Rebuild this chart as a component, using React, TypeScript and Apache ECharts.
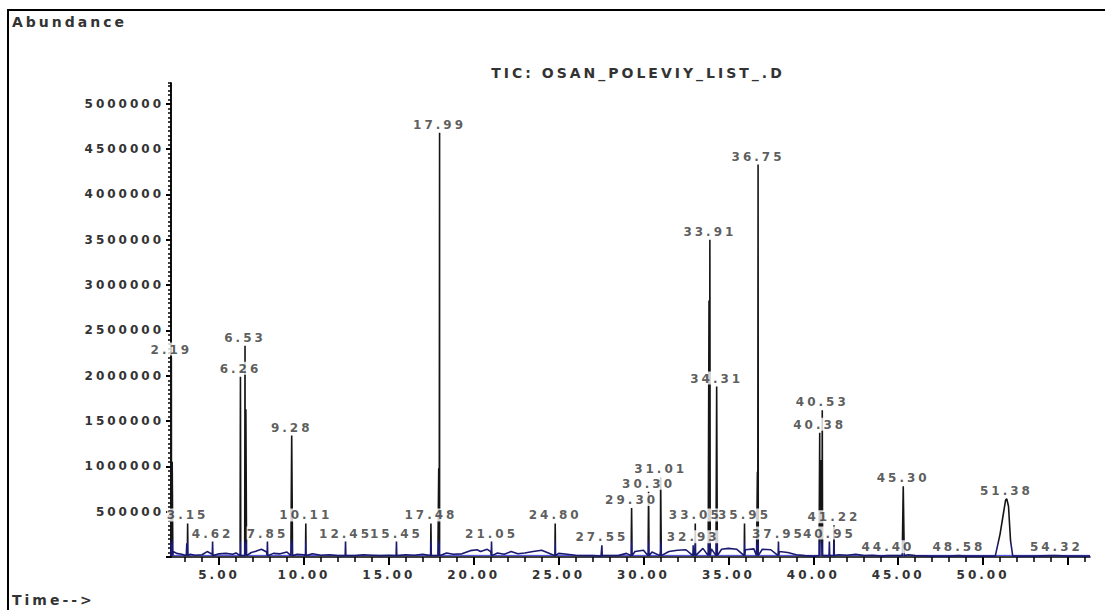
import React, { useEffect, useRef } from "react";
import * as echarts from "echarts";

// ---- axis ticks ----
const xLabelValues = [5, 10, 15, 20, 25, 30, 35, 40, 45, 50];
const xMajorTicks = [5, 10, 15, 20, 25, 30, 35, 40, 45, 50, 55];
const xMinorTicks = [3, 4, 6, 7, 8, 9, 11, 12, 13, 14, 16, 17, 18, 19, 21, 22, 23, 24, 26, 27, 28, 29, 31, 32, 33, 34, 36, 37, 38, 39, 41, 42, 43, 44, 46, 47, 48, 49, 51, 52, 53, 54, 56];
const yLabelValues = [500000, 1000000, 1500000, 2000000, 2500000, 3000000, 3500000, 4000000, 4500000, 5000000];
const yMajorTicks = [0, 500000, 1000000, 1500000, 2000000, 2500000, 3000000, 3500000, 4000000, 4500000, 5000000];
const yMinorInterval = 50000;
const yMax = 5230000;

// ---- peaks (retention time, abundance, half width, label) ----
const peakTimes = [2.19, 2.24, 3.1, 3.15, 4.62, 6.26, 6.53, 6.58, 7.85, 9.28, 10.11, 12.45, 15.45, 17.48, 17.94, 17.99, 21.05, 24.8, 27.55, 29.3, 30.3, 31.01, 32.93, 33.05, 33.86, 33.91, 34.31, 35.95, 36.71, 36.75, 37.95, 40.38, 40.45, 40.53, 40.95, 41.22, 44.4, 45.3, 48.58, 54.32];
const peakHeights = [2200000, 1050000, 150000, 370000, 170000, 1990000, 2330000, 1630000, 170000, 1340000, 370000, 170000, 170000, 370000, 980000, 4680000, 170000, 370000, 130000, 540000, 720000, 880000, 130000, 370000, 2830000, 3500000, 1880000, 370000, 940000, 4330000, 170000, 1370000, 1070000, 1620000, 170000, 350000, 20000, 780000, 20000, 20000];
const peakHalfWidths = [0.02, 0.04, 0.03, 0.02, 0.02, 0.02, 0.02, 0.04, 0.02, 0.05, 0.02, 0.02, 0.02, 0.02, 0.05, 0.02, 0.02, 0.02, 0.02, 0.03, 0.03, 0.04, 0.02, 0.02, 0.05, 0.02, 0.04, 0.02, 0.05, 0.02, 0.02, 0.04, 0.06, 0.02, 0.02, 0.02, 0.02, 0.06, 0.02, 0.02];
const peakLabels = ["2.19", "", "", "3.15", "4.62", "6.26", "6.53", "", "7.85", "9.28", "10.11", "12.45", "15.45", "17.48", "", "17.99", "21.05", "24.80", "27.55", "29.30", "30.30", "31.01", "32.93", "33.05", "", "33.91", "34.31", "35.95", "", "36.75", "37.95", "40.38", "", "40.53", "40.95", "41.22", "44.40", "45.30", "48.58", "54.32"];

// broad late-eluting peak
const broadPeakTimes = [50.72, 51.0, 51.2, 51.33, 51.4, 51.5, 51.62, 51.75];
const broadPeakValues = [10000, 250000, 480000, 630000, 640000, 560000, 180000, 10000];
const broadPeakLabel = "51.38";
const broadPeakApex = 51.38;

// baseline noise of the TIC trace
const baselineTimes = [2.3, 2.5, 2.8, 3.3, 3.6, 4.0, 4.3, 4.6, 5.0, 5.4, 5.8, 6.0, 6.9, 7.2, 7.5, 7.8, 8.2, 8.6, 9.0, 9.6, 10.0, 10.5, 11.0, 11.5, 12.0, 12.5, 13.0, 13.5, 14.0, 14.5, 15.0, 15.5, 16.0, 16.5, 17.0, 17.5, 18.4, 18.8, 19.3, 19.8, 20.2, 20.4, 20.8, 21.0, 21.4, 21.8, 22.2, 22.6, 23.0, 23.5, 24.0, 24.4, 25.0, 25.5, 26.0, 26.5, 27.0, 27.5, 28.0, 28.5, 29.0, 29.5, 30.0, 30.5, 31.0, 31.5, 32.0, 32.5, 33.0, 33.5, 34.0, 34.6, 35.0, 35.5, 36.0, 36.5, 37.0, 37.5, 38.0, 38.5, 39.0, 39.5, 40.0, 41.0, 41.5, 42.0, 42.5, 43.0, 43.5, 44.0, 45.0, 45.6, 46.0, 47.0, 48.0, 49.0, 50.0, 52.0, 53.0, 54.0, 55.0, 56.3];
const baselineValues = [60000, 40000, 30000, 30000, 20000, 25000, 60000, 30000, 35000, 40000, 30000, 45000, 50000, 65000, 85000, 55000, 40000, 35000, 55000, 30000, 25000, 35000, 20000, 25000, 15000, 20000, 15000, 25000, 20000, 15000, 20000, 15000, 25000, 20000, 30000, 35000, 45000, 30000, 35000, 70000, 80000, 60000, 85000, 60000, 45000, 30000, 60000, 35000, 45000, 60000, 75000, 45000, 40000, 30000, 20000, 15000, 15000, 10000, 15000, 15000, 40000, 60000, 75000, 55000, 70000, 60000, 75000, 80000, 90000, 95000, 90000, 85000, 95000, 85000, 80000, 90000, 85000, 80000, 60000, 50000, 25000, 15000, 10000, 15000, 25000, 20000, 30000, 15000, 20000, 10000, 15000, 25000, 15000, 10000, 10000, 10000, 10000, 10000, 10000, 15000, 10000, 10000];
const baseLevel = 15000;

const FONT = "DejaVu Sans";
const TEXT_COLOR = "#333";

export default function App() {
  const ref = useRef<HTMLDivElement>(null);

  useEffect(() => {
    if (!ref.current) return;
    const chart = echarts.init(ref.current, undefined, { renderer: "svg" });

    const trace: [number, number][] = [];
    baselineTimes.forEach((t, i) => trace.push([t, baselineValues[i]]));
    peakTimes.forEach((t, i) => {
      const hw = peakHalfWidths[i];
      trace.push([t - hw, baseLevel], [t, peakHeights[i]], [t + hw, baseLevel]);
    });
    broadPeakTimes.forEach((t, i) => trace.push([t, broadPeakValues[i]]));
    trace.sort((a, b) => a[0] - b[0]);

    const labelData: any[] = [];
    peakTimes.forEach((t, i) => {
      if (peakLabels[i]) labelData.push({ value: [t, peakHeights[i]], name: peakLabels[i] });
    });
    labelData.push({ value: [broadPeakApex, Math.max(...broadPeakValues)], name: broadPeakLabel });
    labelData.sort((a, b) => a.value[0] - b.value[0]);

    const labelText = { fontFamily: FONT, fontSize: 12, fontWeight: "bold" as const, color: TEXT_COLOR };
    const bigText = { fontFamily: FONT, fontSize: 14, fontWeight: "bold" as const, fill: TEXT_COLOR };

    chart.setOption({
      animation: false,
      grid: { left: 171, right: 15, top: 83, bottom: 53 },
      graphic: [
        { type: "rect", shape: { x: 8, y: 10, width: 1120, height: 620 }, style: { fill: "none", stroke: "#000", lineWidth: 2 }, silent: true },
        { type: "text", x: 12, y: 22, style: { text: "Abundance", ...bigText, verticalAlign: "middle" } },
        { type: "text", x: 638, y: 73, style: { text: "TIC: OSAN_POLEVIY_LIST_.D", ...bigText, align: "center", verticalAlign: "middle" } },
        { type: "text", x: 12, y: 600, style: { text: "Time-->", ...bigText, verticalAlign: "middle" } },
      ],
      xAxis: [
        {
          type: "value", min: 2.17, max: 56.3, position: "bottom",
          axisLine: { show: true, lineStyle: { color: "#000", width: 1.5 } },
          axisTick: { show: true, customValues: xMajorTicks, length: 8, lineStyle: { color: "#000", width: 2 } },
          axisLabel: { customValues: xLabelValues, formatter: (v: number) => v.toFixed(2), margin: 12, ...labelText },
          splitLine: { show: false },
        },
        {
          type: "value", min: 2.17, max: 56.3, position: "bottom",
          axisLine: { show: false },
          axisTick: { show: true, customValues: xMinorTicks, length: 5, lineStyle: { color: "#000", width: 1.5 } },
          axisLabel: { show: false },
          splitLine: { show: false },
        },
      ],
      yAxis: [
        {
          type: "value", min: 0, max: yMax, position: "left",
          axisLine: { show: true, lineStyle: { color: "#000", width: 1.5 } },
          axisTick: { show: true, customValues: yMajorTicks, length: 5, lineStyle: { color: "#000", width: 2 } },
          axisLabel: { customValues: yLabelValues, margin: 7, formatter: (v: number) => String(v), ...labelText },
          splitLine: { show: false },
        },
        {
          type: "value", min: 0, max: yMax, interval: yMinorInterval, position: "left", offset: 0,
          axisLine: { show: true, lineStyle: { color: "#000", width: 1.5 } },
          axisTick: { show: true, length: 3, lineStyle: { color: "#000", width: 1.5 } },
          axisLabel: { show: false },
          splitLine: { show: false },
        },
      ],
      series: [
        {
          type: "line", data: [[2.17, 18000], [56.3, 18000]], symbol: "none", z: 1,
          lineStyle: { color: "#3a3ad8", width: 1 }, silent: true,
        },
        {
          type: "line", data: trace, symbol: "none", showSymbol: false, z: 2,
          lineStyle: {
            width: 1.6,
            color: new echarts.graphic.LinearGradient(0, 557, 0, 83, [
              { offset: 0, color: "#1a1a70" },
              { offset: 0.025, color: "#1a1a70" },
              { offset: 0.04, color: "#151515" },
              { offset: 1, color: "#151515" },
            ], true),
          },
          silent: true,
        },
        {
          type: "scatter", data: labelData, symbolSize: 0, z: 5, silent: true,
          label: {
            show: true, position: "top", distance: 2,
            formatter: (p: any) => p.name,
            ...labelText,
            backgroundColor: "#fff",
            padding: [1, 6, 0, 6],
          },
        },
      ],
    });

    return () => chart.dispose();
  }, []);

  return (
    <div
      ref={ref}
      style={{ position: "absolute", left: 0, top: 0, width: 1105, height: 610, background: "#fff", letterSpacing: "3px" }}
    />
  );
}
